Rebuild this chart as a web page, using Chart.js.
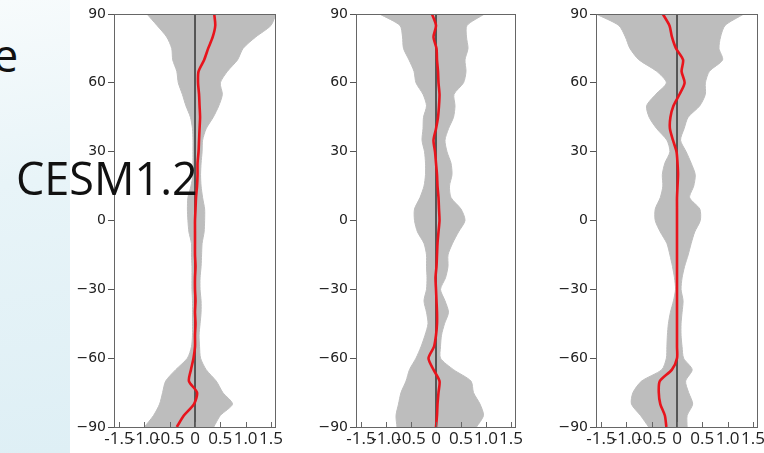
<!DOCTYPE html>
<html>
<head>
<meta charset="utf-8">
<script src="https://cdn.jsdelivr.net/npm/chart.js@4.4.1/dist/chart.umd.min.js"></script>
<style>
  html, body { margin: 0; padding: 0; background: #fff; }
  body { width: 764px; height: 453px; position: relative; overflow: hidden; }
  #side { position: absolute; left: 0; top: 0; width: 70px; height: 453px;
          background: linear-gradient(172deg, #f7fbfc 0%, #e8f4f8 40%, #deeff5 100%); }
  .panel { position: absolute; top: 0; height: 453px; }
  .label { position: absolute; font-family: "Open Sans"; font-size: 45px; line-height: 45px;
           color: #111; z-index: 5; white-space: nowrap; }
</style>
</head>
<body>
<div id="side"></div>
<div class="panel" style="left:74px"><canvas id="c1" width="213" height="453"></canvas></div>
<div class="panel" style="left:316px"><canvas id="c2" width="211" height="453"></canvas></div>
<div class="panel" style="left:556px"><canvas id="c3" width="208" height="453"></canvas></div>
<div class="label" style="left:-7px; top:32px">e</div>
<div class="label" style="left:16px; top:155px">CESM1.2</div>

<script>
// latitude (y axis) shared by all three panels
const lat = [-90, -85, -80, -75, -70, -65, -60, -55, -50, -45, -40, -35, -30, -25, -20, -15, -10, -5, 0,
             5, 10, 15, 20, 25, 30, 35, 40, 45, 50, 55, 60, 65, 70, 75, 80, 85, 90];

// panel 1
const lo1 = [-1.0, -0.82, -0.7, -0.64, -0.58, -0.38, -0.15, -0.07, -0.05, -0.05, -0.05, -0.05, -0.06, -0.06, -0.06, -0.07, -0.07, -0.12, -0.14,
             -0.15, -0.14, -0.08, -0.04, -0.04, -0.04, -0.04, -0.05, -0.09, -0.18, -0.25, -0.33, -0.36, -0.44, -0.46, -0.56, -0.75, -0.95];
const hi1 = [0.37, 0.5, 0.74, 0.55, 0.42, 0.22, 0.11, 0.09, 0.08, 0.1, 0.12, 0.12, 0.1, 0.1, 0.12, 0.13, 0.14, 0.18, 0.19,
             0.19, 0.15, 0.12, 0.11, 0.12, 0.14, 0.15, 0.22, 0.36, 0.47, 0.54, 0.5, 0.64, 0.84, 0.95, 1.2, 1.5, 1.6];
const mean1 = [-0.36, -0.22, -0.02, 0.04, -0.12, -0.08, -0.03, 0.0, 0.0, 0.01, 0.0, 0.01, 0.0, 0.0, 0.01, 0.0, 0.0, 0.0, 0.0,
               0.01, 0.02, 0.04, 0.05, 0.05, 0.07, 0.08, 0.09, 0.1, 0.09, 0.08, 0.06, 0.07, 0.18, 0.26, 0.35, 0.4, 0.38];

// panel 2
const lo2 = [-0.78, -0.8, -0.75, -0.7, -0.6, -0.53, -0.4, -0.3, -0.22, -0.16, -0.19, -0.24, -0.19, -0.18, -0.19, -0.19, -0.24, -0.37, -0.43,
             -0.43, -0.32, -0.24, -0.21, -0.21, -0.23, -0.28, -0.26, -0.25, -0.19, -0.26, -0.4, -0.44, -0.54, -0.65, -0.67, -0.72, -1.13];
const hi2 = [0.81, 0.95, 0.88, 0.75, 0.7, 0.35, 0.09, 0.09, 0.11, 0.17, 0.25, 0.18, 0.09, 0.19, 0.24, 0.24, 0.33, 0.45, 0.58,
             0.5, 0.3, 0.27, 0.32, 0.3, 0.22, 0.18, 0.25, 0.35, 0.38, 0.36, 0.55, 0.6, 0.58, 0.64, 0.61, 0.62, 0.97];
const mean2 = [0.0, 0.02, 0.03, 0.05, 0.07, -0.05, -0.15, -0.04, 0.0, 0.02, 0.02, 0.01, 0.0, -0.01, 0.01, 0.02, 0.03, 0.05, 0.07,
               0.06, 0.05, 0.03, 0.02, 0.0, -0.02, -0.05, 0.0, 0.04, 0.06, 0.07, 0.05, 0.04, 0.02, 0.01, -0.05, 0.0, -0.08];

// panel 3
const lo3 = [-0.56, -0.72, -0.9, -0.87, -0.7, -0.3, -0.21, -0.2, -0.19, -0.17, -0.13, -0.07, -0.03, -0.05, -0.09, -0.14, -0.2, -0.33, -0.43,
             -0.43, -0.33, -0.28, -0.29, -0.24, -0.14, -0.2, -0.4, -0.55, -0.6, -0.42, -0.21, -0.4, -0.75, -0.93, -1.02, -1.15, -1.6];
const hi3 = [0.2, 0.2, 0.31, 0.23, 0.17, 0.3, 0.13, 0.1, 0.08, 0.08, 0.1, 0.12, 0.08, 0.1, 0.15, 0.22, 0.28, 0.35, 0.46,
             0.45, 0.25, 0.33, 0.36, 0.28, 0.18, 0.07, 0.14, 0.22, 0.45, 0.56, 0.56, 0.64, 0.9, 0.83, 0.86, 0.95, 1.32];
const mean3 = [-0.21, -0.24, -0.33, -0.36, -0.34, -0.1, 0.0, 0.0, 0.0, 0.0, 0.0, 0.0, 0.0, 0.0, 0.0, 0.0, 0.0, 0.0, 0.0,
               0.0, 0.0, 0.01, 0.02, 0.01, -0.01, -0.08, -0.14, -0.13, -0.07, 0.05, 0.15, 0.09, 0.12, -0.02, -0.1, -0.15, -0.28];

const xTicks = [-1.5, -1.0, -0.5, 0, 0.5, 1.0, 1.5];
const yTicks = [-90, -60, -30, 0, 30, 60, 90];

const bandColor = '#bdbdbd';

function pts(vals) {
    return vals.map((v, i) => ({x: v, y: lat[i]}));
}

// box around the plot + short inward ticks on the bottom axis
const frame = {
    id: 'frame',
    afterDraw(chart) {
        const {ctx, chartArea: a} = chart;
        const x = chart.scales.x;
        ctx.save();
        ctx.strokeStyle = '#666';
        ctx.lineWidth = 1;
        ctx.strokeRect(Math.round(a.left) + 0.5, Math.round(a.top) + 0.5,
                       Math.round(a.right - a.left), Math.round(a.bottom - a.top));
        ctx.beginPath();
        xTicks.forEach(v => {
            const px = Math.round(x.getPixelForValue(v)) + 0.5;
            ctx.moveTo(px, a.bottom);
            ctx.lineTo(px, a.bottom - 5);
        });
        ctx.stroke();
        ctx.restore();
    }
};

function makePanel(id, lo, hi, mean, padRight) {
    new Chart(document.getElementById(id), {
        type: 'line',
        data: {
            datasets: [
                {data: pts(lo), borderColor: bandColor, borderWidth: 1, fill: false, order: 3},
                {data: pts(hi), borderColor: bandColor, borderWidth: 1, backgroundColor: bandColor, fill: '-1', order: 3},
                {data: [{x: 0, y: -90}, {x: 0, y: 90}], borderColor: '#111', borderWidth: 1.2, tension: 0, order: 2},
                {data: pts(mean), borderColor: '#e8141c', borderWidth: 2.6, order: 1}
            ]
        },
        options: {
            indexAxis: 'y',
            responsive: false,
            animation: false,
            layout: {padding: {top: 14, bottom: 0, left: 0, right: padRight}},
            elements: {
                point: {radius: 0},
                line: {tension: 0.25}
            },
            plugins: {legend: {display: false}, tooltip: {enabled: false}},
            scales: {
                x: {
                    type: 'linear',
                    min: -1.6,
                    max: 1.58,
                    afterBuildTicks: s => { s.ticks = xTicks.map(v => ({value: v})); },
                    afterFit: s => { s.height = 26; },
                    grid: {display: false},
                    border: {display: false},
                    ticks: {
                        autoSkip: false,
                        maxRotation: 0,
                        padding: -6,
                        color: '#222',
                        font: {family: "'Liberation Sans Narrow', 'Open Sans'", size: 17},
                        callback: v => v === 0 ? '0' : v.toFixed(1)
                    }
                },
                y: {
                    type: 'linear',
                    min: -90,
                    max: 90,
                    afterBuildTicks: s => { s.ticks = yTicks.map(v => ({value: v})); },
                    afterFit: s => { s.width = 40; },
                    grid: {drawOnChartArea: false, tickLength: 6, color: '#555'},
                    border: {display: false},
                    ticks: {
                        padding: 2,
                        color: '#222',
                        font: {family: 'DejaVu Sans', size: 14},
                        callback: v => v < 0 ? '\u2212' + (-v) : String(v)
                    }
                }
            }
        },
        plugins: [frame]
    });
}

makePanel('c1', lo1, hi1, mean1, 12);
makePanel('c2', lo2, hi2, mean2, 12);
makePanel('c3', lo3, hi3, mean3, 7);
</script>
</body>
</html>
